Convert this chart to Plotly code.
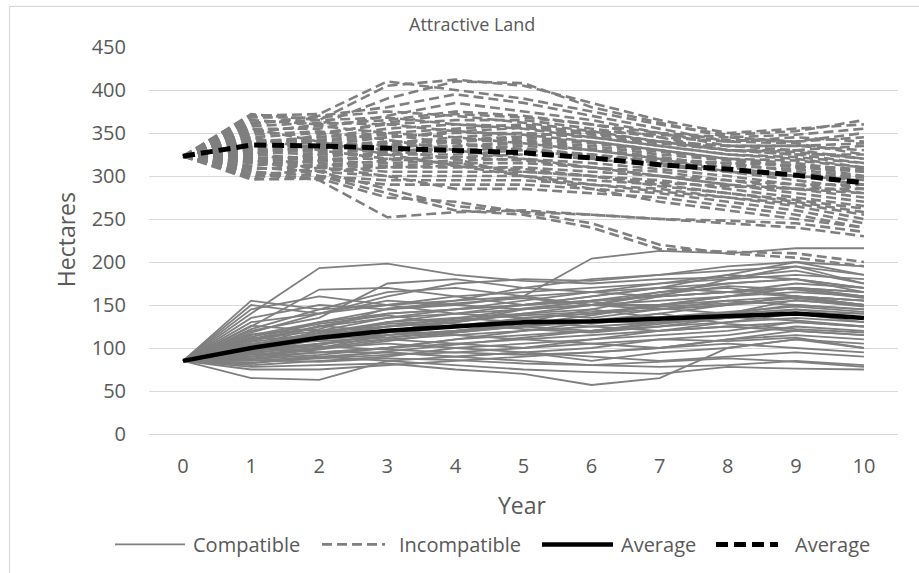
import plotly.graph_objects as go

years = [str(i) for i in range(11)]
y_ticks = [0, 50, 100, 150, 200, 250, 300, 350, 400, 450]

compatible = [
    [85,150,140,160,175,180,178,185,190,195,185],
    [85,155,145,150,160,165,170,175,180,185,180],
    [85,140,193,198,185,178,175,180,182,190,175],
    [85,125,168,170,160,150,155,165,170,160,150],
    [85,120,135,175,180,170,165,160,165,170,160],
    [85,110,130,145,150,160,204,213,210,216,216],
    [85,100,120,135,140,150,160,170,185,200,185],
    [85,95,110,120,130,140,150,165,175,180,170],
    [85,90,100,115,120,130,145,160,180,195,175],
    [85,105,115,125,130,145,155,160,165,170,165],
    [85,65,63,85,90,95,100,110,115,125,120],
    [85,75,75,80,85,90,95,100,110,120,115],
    [85,80,85,90,100,105,110,115,120,130,125],
    [85,82,90,95,90,95,85,95,100,110,105],
    [85,88,95,100,110,120,125,130,135,140,140],
    [85,92,100,110,115,120,130,140,150,160,155],
    [85,98,105,115,125,135,140,145,150,155,150],
    [85,102,115,130,140,145,150,150,155,160,155],
    [85,108,125,140,145,150,155,160,165,175,170],
    [85,115,130,140,145,150,160,170,165,160,150],
    [85,130,140,150,155,160,165,170,175,180,170],
    [85,112,110,120,115,110,105,100,110,115,110],
    [85,95,100,105,100,95,90,85,90,95,90],
    [85,90,95,95,90,85,80,78,80,85,80],
    [85,85,90,85,80,75,72,70,78,76,75],
    [85,78,80,82,75,70,57,65,100,110,100],
    [85,100,95,100,110,115,120,125,130,135,130],
    [85,105,110,115,120,125,120,130,140,150,145],
    [85,110,120,125,130,140,145,135,140,145,135],
    [85,118,140,155,150,145,150,155,160,165,160],
    [85,122,145,165,170,160,150,145,150,160,155],
    [85,96,112,125,135,130,125,120,125,130,125],
    [85,93,105,110,105,100,110,120,130,140,135],
    [85,87,92,100,105,110,115,120,125,120,115],
    [85,100,118,130,135,140,135,145,155,150,145],
    [85,110,125,135,145,155,165,175,185,180,165],
    [85,104,108,112,120,128,138,150,160,170,160],
    [85,90,98,108,118,125,130,130,135,140,130],
    [85,97,102,98,95,100,105,110,108,112,100],
    [85,83,88,92,95,92,95,100,105,100,95],
    [85,107,117,128,132,138,142,148,152,158,150],
    [85,113,128,138,128,122,118,125,135,145,140],
    [85,145,160,150,140,135,140,150,160,170,165],
    [85,135,150,145,155,170,180,185,195,200,195],
    [85,99,103,118,126,134,128,136,142,148,142],
    [85,94,88,96,104,112,120,128,136,132,125],
    [85,86,84,88,86,82,80,84,88,84,78],
    [85,126,120,112,118,126,132,140,128,122,118],
    [85,116,122,146,152,158,150,162,172,168,158],
    [85,101,126,118,134,146,154,146,140,156,148],
]

incompatible = [
    [323,372,365,405,412,405,385,365,350,355,360],
    [323,370,372,410,400,390,375,360,348,352,365],
    [323,365,360,390,410,408,380,362,345,340,350],
    [323,360,370,380,395,385,370,355,340,345,340],
    [323,355,355,370,385,375,365,350,335,335,330],
    [323,350,360,365,375,370,360,345,340,338,325],
    [323,345,350,360,365,365,355,345,330,330,320],
    [323,340,345,350,355,360,350,340,330,325,315],
    [323,338,340,345,350,350,345,335,325,320,310],
    [323,335,335,340,340,345,340,330,320,315,305],
    [323,332,330,335,335,340,335,325,318,312,300],
    [323,330,328,330,330,335,330,320,315,305,295],
    [323,328,325,325,325,330,325,318,310,300,290],
    [323,325,320,320,322,325,320,312,305,295,285],
    [323,322,318,315,318,320,315,308,300,290,280],
    [323,320,315,312,315,315,310,305,295,285,275],
    [323,318,312,310,310,310,305,300,290,280,270],
    [323,315,310,305,305,305,300,295,285,275,265],
    [323,310,305,300,300,300,295,290,280,270,258],
    [323,305,300,295,295,295,290,285,275,265,250],
    [323,300,298,290,290,290,285,280,270,260,245],
    [323,298,310,300,285,285,280,275,265,255,240],
    [323,296,297,275,270,258,255,250,248,245,235],
    [323,305,295,252,258,260,255,250,245,240,230],
    [323,320,300,280,260,255,240,215,212,210,200],
    [323,330,305,285,265,258,245,220,210,205,195],
    [323,342,340,330,320,300,285,270,260,250,240],
    [323,348,352,342,330,320,310,300,290,285,280],
    [323,352,358,350,345,338,330,320,305,300,295],
    [323,358,362,360,352,348,340,330,320,318,310],
    [323,362,365,368,360,355,345,335,325,322,315],
    [323,368,368,375,370,362,352,340,330,328,320],
    [323,335,345,355,360,358,350,340,335,330,335],
    [323,326,332,338,345,350,345,338,330,325,325],
    [323,312,318,325,330,332,325,315,305,300,300],
    [323,308,312,318,322,318,310,300,295,290,290],
    [323,302,306,310,312,308,300,292,288,285,285],
    [323,340,338,336,342,346,352,348,342,340,345],
    [323,333,348,362,372,368,360,350,345,348,355],
    [323,316,325,332,340,342,338,328,320,310,305],
    [323,345,330,320,315,305,300,288,280,272,262],
    [323,355,340,325,312,300,290,282,275,268,255],
    [323,327,336,345,352,356,348,340,335,335,338],
    [323,319,322,328,334,338,332,322,312,308,298],
    [323,337,342,348,338,330,322,318,315,312,308],
]

avg_compatible = [85,100,112,120,125,130,131,134,137,140,135]
avg_incompatible = [323,336,335,332,330,327,321,313,308,301,292]

GREY = "#7f7f7f"
TXT = "#595959"
GRID = "#d9d9d9"
FONT = "Open Sans"

fig = go.Figure()
for s in compatible:
    fig.add_trace(go.Scatter(x=years, y=s, mode="lines", showlegend=False,
                             line=dict(color=GREY, width=1.8), hoverinfo="skip"))
for s in incompatible:
    fig.add_trace(go.Scatter(x=years, y=s, mode="lines", showlegend=False,
                             line=dict(color=GREY, width=2.6, dash="10px,5px"), hoverinfo="skip"))
fig.add_trace(go.Scatter(x=years, y=avg_compatible, mode="lines", name="Average",
                         showlegend=False, line=dict(color="black", width=4.5)))
fig.add_trace(go.Scatter(x=years, y=avg_incompatible, mode="lines", name="Average",
                         showlegend=False, line=dict(color="black", width=5, dash="12px,6px")))

# body margin removed by post_script, so figure pixels == window pixels
W, H = 919, 573
L, R, T, B = 149, 898, 47, 433.7
pw, ph = R - L, B - T
def fx(x):
    return (x - L) / pw
def fy(y):
    return (B - y) / ph

shapes = []
annotations = []
# chart-area border (left & top visible)
shapes.append(dict(type="line", xref="paper", yref="paper", x0=fx(9.5), x1=fx(9.5), y0=fy(573), y1=fy(6.5),
                   line=dict(color=GRID, width=1.2)))
shapes.append(dict(type="line", xref="paper", yref="paper", x0=fx(9.5), x1=fx(919), y0=fy(6.5), y1=fy(6.5),
                   line=dict(color=GRID, width=1.2)))

# manual legend
ly = 544
legend_items = [
    (115, 185, dict(color=GREY, width=1.8), 191, "Compatible"),
    (322, 385, dict(color=GREY, width=2.6, dash="10px,5px"), 397, "Incompatible"),
    (542, 613, dict(color="black", width=4.5), 619, "Average"),
    (716, 778, dict(color="black", width=5, dash="12px,6px"), 793, "Average"),
]
for x0, x1, ln, tx, label in legend_items:
    shapes.append(dict(type="line", xref="paper", yref="paper", x0=fx(x0), x1=fx(x1),
                       y0=fy(ly), y1=fy(ly), line=ln))
    annotations.append(dict(text=label, xref="paper", yref="paper", x=fx(tx), y=fy(ly),
                            xanchor="left", yanchor="middle", showarrow=False,
                            font=dict(family=FONT, size=20, color=TXT)))

annotations.append(dict(text="Hectares", xref="paper", yref="paper", x=fx(66), y=fy(240),
                        xanchor="center", yanchor="middle", textangle=-90, showarrow=False,
                        font=dict(family=FONT, size=23, color=TXT)))
annotations.append(dict(text="Year", xref="paper", yref="paper", x=fx(522), y=fy(505),
                        xanchor="center", yanchor="middle", showarrow=False,
                        font=dict(family=FONT, size=23, color=TXT)))
annotations.append(dict(text="Attractive Land", xref="paper", yref="paper", x=fx(472), y=fy(24),
                        xanchor="center", yanchor="middle", showarrow=False,
                        font=dict(family=FONT, size=18, color=TXT)))

fig.update_layout(
    width=W, height=H,
    margin=dict(l=L, r=W - R, t=T, b=H - B, autoexpand=False),
    paper_bgcolor="white", plot_bgcolor="white",
    shapes=shapes, annotations=annotations,
    showlegend=False,
    font=dict(family=FONT, color=TXT),
)
fig.update_xaxes(type="category", range=[-0.5, 10.5], showgrid=False, showline=True,
                 linecolor=GRID, linewidth=1, ticks="", zeroline=False,
                 tickfont=dict(family=FONT, size=20, color=TXT), ticklabelstandoff=14)
fig.update_yaxes(range=[0, 450], tickvals=y_ticks, showgrid=True, gridcolor=GRID, gridwidth=1,
                 zeroline=False, showline=False, ticks="",
                 tickfont=dict(family=FONT, size=20, color=TXT), ticklabelstandoff=22)

fig.write_html("out.html", config={"displayModeBar": False},
               post_script="document.body.style.margin='0px';document.body.style.overflow='hidden';")
